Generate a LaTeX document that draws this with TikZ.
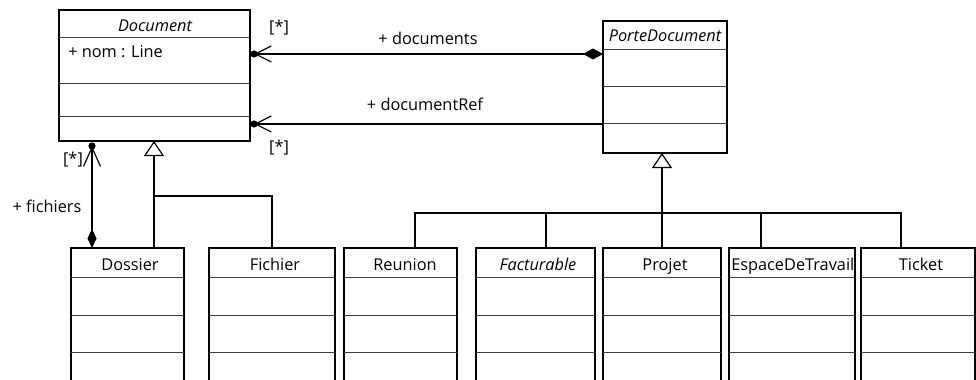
\documentclass[tikz,border=0pt]{standalone}
\usepackage{fontspec}
\setmainfont{Open Sans}
\usetikzlibrary{arrows.meta, calc}
\newcommand{\px}{0.025cm}
\tikzset{
  classbox/.style={draw, line width=1pt, anchor=north west, inner sep=0pt, outer sep=0pt},
  compart/.style={line width=0.7pt, black!75},
  txt/.style={inner sep=0pt, font=\fontsize{11.6}{13.9}\selectfont},
  conn/.style={line width=0.85pt},
  owner/.style={conn, {Diamond[length=0.5cm, width=0.275cm]}-{Straight Barb[length=0.4cm, width=0.4cm]}},
  gen/.style={conn, -{Triangle[open, length=0.375cm, width=0.5cm]}}
}

\begin{document}
\begin{tikzpicture}[x=0.025cm, y=-0.025cm]
    \useasboundingbox (0,0) rectangle (976,380);
    \clip (0,0) rectangle (976,380);

    % Document
    \node[classbox, minimum width=191*\px, minimum height=131*\px] (doc) at (59,10) {};
    \foreach \d in {27,73,106}
      \draw[compart] ($(doc.north west)+(0,\d)$) -- ++(191,0);
    \node[txt, anchor=base] (doc-title) at (155,31.5) {\itshape Document};
    \node[txt, anchor=base west] (doc-attr) at (68,57.5) {+ nom : Line};

    % PorteDocument
    \node[classbox, minimum width=124*\px, minimum height=132*\px] (porte) at (603,21) {};
    \foreach \d in {28,65,102}
      \draw[compart] ($(porte.north west)+(0,\d)$) -- ++(124,0);
    \node[txt, anchor=base] (porte-title) at (665,41.5) {\itshape PorteDocument};

    % Sub classes
    \foreach \n/\x/\w in {dossier/71/113, fichier/209/126, reunion/344/113, facturable/476/119,
                          projet/603/118, espace/729/126, ticket/861/114} {
      \node[classbox, minimum width=\w*\px, minimum height=140*\px] (\n) at (\x,248) {};
      \foreach \d in {29,67,104}
        \draw[compart] ($(\n.north west)+(0,\d)$) -- ++(\w,0);
    }
    \foreach \n/\tx/\t in {dossier/130/Dossier, fichier/275/Fichier, reunion/405/Reunion,
                           facturable/538/\textit{Facturable}, projet/665/Projet, ticket/921/Ticket}
      \node[txt, anchor=base] (\n-title) at (\tx,271) {\t};
    \begin{scope}
      \clip (espace.north west) rectangle (espace.south east);
      \node[txt, anchor=base west] (espace-title) at (731,271) {EspaceDeTravail};
    \end{scope}

    % Associations
    \coordinate (aDoc) at ($(doc.north east)+(4,44)$);
    \coordinate (bDoc) at ($(doc.north east)+(4,114)$);
    \coordinate (cDoc) at ($(doc.south west)+(33,5)$);
    \draw[owner] ($(porte.north west)+(0,33)$) -- (aDoc);
    \draw[conn, -{Straight Barb[length=0.4cm, width=0.4cm]}] ($(porte.north west)+(0,103)$) -- (bDoc);
    \draw[owner, {Diamond[length=0.475cm, width=0.225cm]}-{Straight Barb[length=0.475cm, width=0.425cm]}]
      ($(dossier.north west)+(21,0)$) -- (cDoc);
    \foreach \c in {aDoc, bDoc, cDoc}
      \fill (\c) circle[radius=0.09cm];

    \node[txt] (m-docs) at (279,27.5) {[*]};
    \node[txt] (m-ref) at (279,148) {[*]};
    \node[txt] (m-fich) at (73,160) {[*]};
    \node[txt, anchor=base] (r-docs) at (428,45) {+ documents};
    \node[txt, anchor=base] (r-ref) at (425,111) {+ documentRef};
    \node[txt, anchor=base] (r-fich) at (47,213) {+ fichiers};

    % Generalisations
    \coordinate (gDos) at ($(dossier.north west)+(83,0)$);
    \draw[gen] (gDos) -- (gDos |- doc.south);
    \draw[conn] (fichier.north) |- ($(gDos)+(0,-52)$);

    \coordinate (bus) at ($(projet.north)+(0,-35)$);
    \draw[gen] (projet.north) -- (projet.north |- porte.south);
    \foreach \n/\dx in {reunion/71, facturable/70, espace/32, ticket/40}
      \draw[conn] ($(\n.north west)+(\dx,0)$) |- (bus);
  \end{tikzpicture}
\end{document}
